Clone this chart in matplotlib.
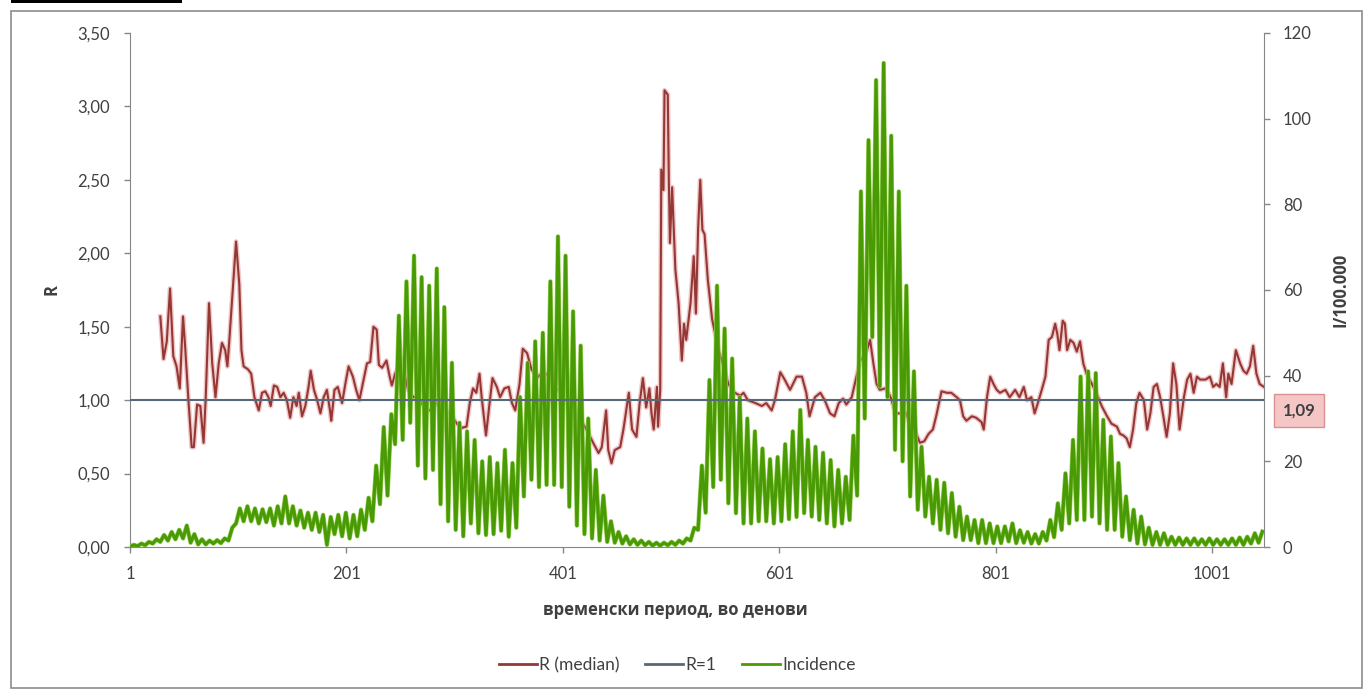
import matplotlib.pyplot as plt
import matplotlib.patheffects as pe
from matplotlib.patches import Rectangle

# R (median): day, value
r_days = [29, 32, 35, 38, 41, 44, 47, 50, 52, 55, 58, 60, 63, 66, 69, 71, 74, 77, 80, 83,
          86, 89, 91, 93, 96, 99, 102, 104, 106, 110, 113, 116, 120, 123, 126, 129, 131, 134, 137, 140,
          143, 146, 149, 152, 155, 157, 160, 163, 166, 168, 171, 174, 177, 180, 183, 186, 187, 190, 193, 197,
          200, 203, 207, 210, 213, 220, 223, 226, 229, 231, 234, 238, 241, 243, 246, 252, 258, 263, 267, 272,
          278, 284, 290, 297, 303, 307, 312, 315, 318, 321, 324, 326, 330, 333, 336, 340, 343, 347, 351, 354,
          357, 361, 364, 368, 372, 377, 381, 386, 391, 395, 400, 404, 409, 414, 418, 422, 425, 429, 434, 437,
          441, 443, 446, 449, 454, 457, 462, 465, 469, 472, 475, 478, 481, 483, 485, 488, 489, 491, 492, 494,
          495, 498, 499, 500, 502, 505, 508, 511, 513, 515, 519, 522, 524, 526, 528, 530, 532, 535, 539, 545,
          554, 560, 565, 568, 572, 579, 585, 589, 594, 597, 602, 606, 611, 617, 622, 626, 629, 634, 639, 643,
          648, 652, 656, 660, 663, 668, 673, 676, 679, 682, 685, 688, 691, 694, 699, 702, 705, 708, 713, 717,
          722, 726, 731, 735, 739, 743, 746, 751, 756, 760, 765, 768, 771, 774, 779, 783, 788, 790, 793, 796,
          799, 802, 805, 810, 814, 819, 823, 827, 830, 834, 837, 840, 844, 847, 850, 853, 856, 858, 860, 863,
          865, 867, 870, 873, 876, 879, 882, 885, 890, 894, 899, 904, 908, 913, 916, 919, 922, 925, 928, 931,
          934, 938, 941, 944, 947, 950, 953, 956, 959, 962, 965, 968, 971, 975, 978, 981, 984, 987, 990, 995,
          999, 1002, 1005, 1008, 1011, 1014, 1016, 1019, 1023, 1027, 1030, 1033, 1036, 1039, 1042, 1045, 1049]
r_vals = [1.57, 1.28, 1.40, 1.76, 1.30, 1.23, 1.08, 1.57, 1.36, 1.00, 0.68, 0.68, 0.97, 0.96, 0.71, 1.02, 1.66, 1.25, 1.02, 1.25,
          1.39, 1.34, 1.23, 1.43, 1.75, 2.08, 1.79, 1.34, 1.23, 1.21, 1.18, 1.02, 0.93, 1.05, 1.06, 1.02, 0.96, 1.10, 1.09, 1.02,
          1.05, 1.00, 0.88, 1.02, 0.96, 1.05, 0.89, 0.96, 1.09, 1.20, 1.07, 1.00, 0.91, 1.02, 1.07, 0.92, 0.86, 1.07, 1.09, 0.98,
          1.11, 1.23, 1.16, 1.07, 1.00, 1.25, 1.26, 1.50, 1.48, 1.24, 1.22, 1.27, 1.16, 1.10, 1.18, 1.27, 1.07, 1.02, 1.02, 0.96,
          0.93, 0.98, 0.93, 0.91, 0.84, 0.81, 0.82, 0.98, 1.08, 1.05, 1.18, 1.02, 0.76, 0.96, 1.15, 1.09, 1.02, 1.08, 1.09, 0.98,
          0.93, 1.11, 1.35, 1.32, 1.21, 1.15, 1.18, 1.18, 1.10, 1.07, 1.08, 1.02, 0.94, 0.89, 0.86, 0.81, 0.77, 0.71, 0.64, 0.68,
          0.93, 0.66, 0.57, 0.66, 0.68, 0.80, 1.05, 0.80, 0.75, 0.98, 1.15, 0.95, 1.08, 0.91, 0.80, 1.09, 0.82, 1.07, 2.57, 2.43,
          3.11, 3.08, 2.48, 2.07, 2.45, 1.89, 1.66, 1.27, 1.52, 1.41, 1.66, 1.98, 1.59, 2.16, 2.50, 2.16, 2.13, 1.82, 1.55, 1.34,
          1.11, 1.05, 1.03, 1.05, 1.00, 0.98, 0.96, 0.98, 0.93, 1.00, 1.19, 1.14, 1.07, 1.16, 1.16, 1.05, 0.89, 1.02, 1.05, 1.00,
          0.91, 0.89, 0.98, 1.01, 0.97, 1.02, 1.18, 1.27, 1.30, 1.34, 1.41, 1.25, 1.11, 1.07, 1.08, 1.05, 1.00, 0.91, 0.91, 0.93,
          0.84, 0.80, 0.71, 0.72, 0.77, 0.80, 0.89, 1.06, 1.05, 1.05, 1.02, 1.00, 0.89, 0.86, 0.89, 0.88, 0.85, 0.80, 1.02, 1.16,
          1.11, 1.07, 1.05, 1.07, 1.02, 1.07, 1.02, 1.09, 1.00, 1.02, 0.91, 0.98, 1.08, 1.16, 1.41, 1.43, 1.52, 1.45, 1.34, 1.54,
          1.52, 1.34, 1.41, 1.39, 1.33, 1.40, 1.25, 1.18, 1.11, 1.05, 0.96, 0.89, 0.84, 0.82, 0.77, 0.76, 0.74, 0.68, 0.80, 0.98,
          1.05, 1.00, 0.80, 0.91, 1.09, 1.11, 1.02, 0.89, 0.75, 0.91, 1.25, 1.11, 0.80, 1.02, 1.14, 1.18, 1.05, 1.16, 1.14, 1.14,
          1.16, 1.09, 1.11, 1.09, 1.25, 1.02, 1.18, 1.11, 1.34, 1.25, 1.20, 1.18, 1.23, 1.37, 1.18, 1.11, 1.09]

# Incidence per 100.000: weekly high and weekly (weekend) low, week 0 = days 1-7
inc_hi = [0.5, 0.8, 1.2, 1.8, 2.8, 3.5, 4.0, 5.0, 3.0, 1.8,
          1.5, 1.6, 2.0, 4.5, 9.0, 9.5, 9.0, 8.8, 9.0, 9.5,
          11.8, 9.5, 8.5, 8.0, 8.0, 7.5, 7.0, 7.5, 8.0, 7.5,
          8.7, 11.5, 19, 28, 31, 54, 62, 68, 63, 61,
          65, 56, 43, 29, 27, 25, 20, 21, 19.6, 22.7,
          19.6, 35, 43, 48, 50, 62, 72.5, 68, 55, 47,
          30, 18, 12, 6, 3.5, 2.5, 1.8, 1.5, 1.2, 1.0,
          1.0, 1.2, 1.5, 2.0, 4.5, 19, 39, 61, 51, 44,
          35, 30, 27, 23, 20.5, 21, 24, 27, 32, 25,
          23.4, 22, 20.3, 18, 16.4, 26, 83, 95, 109, 113,
          96, 83, 61, 41, 23.4, 16.4, 15.7, 15, 12.6, 9.4,
          7.1, 6.3, 6.3, 5.5, 4.8, 4.8, 5.5, 3.9, 3.5, 3.0,
          3.5, 6.3, 10.2, 17.2, 25, 39.8, 41, 40.6, 29.7, 25.8,
          19.6, 11.8, 8.7, 7.1, 4.5, 3.5, 3.2, 2.4, 2.2, 2.0,
          2.0, 1.8, 2.0, 1.8, 1.8, 2.0, 2.2, 2.4, 3.2, 3.6]
inc_lo = [0.1, 0.2, 0.4, 0.8, 1.2, 1.5, 1.8, 2.0, 1.0, 0.6,
          0.6, 0.8, 0.9, 1.5, 5.5, 6.0, 6.0, 5.5, 5.8, 5.0,
          5.5, 5.5, 5.0, 4.5, 4.0, 3.5, 0.5, 3.0, 2.5, 2.0,
          2.5, 4, 6, 10, 12, 24, 25, 29, 19, 16,
          18, 10, 6, 4, 2.5, 5.5, 3.2, 2.8, 3, 3.8,
          2.4, 4.5, 11.8, 15.7, 14, 14.5, 14.5, 14, 9.4, 5,
          3, 2, 1.5, 1.2, 1.0, 0.8, 0.6, 0.5, 0.4, 0.3,
          0.3, 0.4, 0.5, 0.8, 1.5, 4, 8, 14, 15.7, 10.2,
          7.9, 5.5, 5.5, 6, 6, 5.5, 6, 6.5, 7, 7.9,
          7.1, 6.3, 5.5, 4.8, 5.5, 6.3, 12, 30, 49, 37.5,
          35, 22.7, 20, 11.8, 8.7, 7.1, 5.5, 4, 3.2, 2.4,
          1.6, 1.6, 0.9, 0.9, 0.9, 0.9, 1.3, 0.9, 1.0, 0.8,
          0.8, 1.5, 2.3, 4, 5.5, 6.3, 6.3, 7.1, 5.5, 4,
          4, 2.4, 1.6, 0.8, 0.6, 0.5, 0.5, 0.5, 0.5, 0.5,
          0.5, 0.5, 0.5, 0.5, 0.5, 0.5, 0.5, 0.5, 0.8, 1.0]

last_r = 1.09
x_ticks = [1, 201, 401, 601, 801, 1001]
r_ticks = [0, 0.5, 1.0, 1.5, 2.0, 2.5, 3.0, 3.5]
i_ticks = [0, 20, 40, 60, 80, 100, 120]

plt.rcParams['font.family'] = ['Lato', 'Noto Sans', 'DejaVu Sans']

# daily series: low day then high day of each week
inc_days = []
inc_vals = []
for i in range(len(inc_hi)):
    inc_days += [7 * i + 1, 7 * i + 4.5]
    inc_vals += [inc_lo[i], inc_hi[i]]

txt = '#404040'
axis_col = '#868686'

fig = plt.figure(figsize=(13.64, 6.91), dpi=100)
ax = fig.add_axes([130 / 1364, 144 / 691, 1134 / 1364, 514 / 691])
ax2 = ax.twinx()

red, = ax.plot(r_days, r_vals, color='#953735', lw=1.5, label='R (median)',
               path_effects=[pe.Stroke(linewidth=3.5, foreground='#efc8c8'), pe.Normal()])
green, = ax2.plot(inc_days, inc_vals, color='#4a9a06', lw=2.3, label='Incidence',
                  path_effects=[pe.Stroke(linewidth=3.2, foreground='#9ad35a'), pe.Normal()])
# R=1 line drawn on top, in the R scale
one, = ax2.plot([0, 1], [1, 1], color='#56687a', lw=1.5, label='R=1',
                transform=ax.get_yaxis_transform())

ax.set_xlim(1, 1049)
ax.set_ylim(0, 3.5)
ax2.set_ylim(0, 120)
ax.set_xticks(x_ticks)
ax.set_yticks(r_ticks)
ax.set_yticklabels([f'{v:.2f}'.replace('.', ',') for v in r_ticks])
ax2.set_yticks(i_ticks)

for a in (ax, ax2):
    for s in a.spines.values():
        s.set_color(axis_col)
    a.spines['top'].set_visible(False)
    a.tick_params(colors=axis_col, labelcolor=txt, labelsize=12, length=4.5, width=1)
ax.spines['right'].set_visible(False)
ax2.spines['left'].set_visible(False)
ax2.spines['bottom'].set_visible(False)
ax.tick_params(axis='x', pad=9)
ax.tick_params(axis='y', pad=10)
ax2.tick_params(axis='y', pad=9)

ax.set_ylabel('R', fontsize=12, fontweight='bold', color=txt, labelpad=12,
              family=['Open Sans', 'DejaVu Sans'])
ax2.set_ylabel('I/100.000', fontsize=12, fontweight='bold', color=txt, labelpad=14,
               family=['Open Sans', 'DejaVu Sans'])
ax.set_xlabel('временски период, во денови', fontsize=12, fontweight='bold', color=txt,
              family=['Open Sans', 'DejaVu Sans'])
ax.xaxis.set_label_coords((675 - 130) / 1134, -54 / 514)

ax.text(1.031, 0.265, f'{last_r:.2f}'.replace('.', ','), transform=ax.transAxes,
        ha='center', va='center', fontsize=12, fontweight='bold', color='#404040',
        bbox=dict(boxstyle='square,pad=0.5', fc='#f4c7c6', ec='#d9908e', lw=1))

leg = fig.legend(handles=[red, one, green], loc='center', bbox_to_anchor=(677 / 1364, 1 - 665 / 691),
                 ncol=3, frameon=False, fontsize=12.5, handlelength=2.2, handletextpad=0.1,
                 columnspacing=1.5, labelcolor=txt)
for ln in leg.get_lines():
    ln.set_linewidth(2)
    ln.set_path_effects([])

# outer frame of the chart area and the cut caption line above it
fig.patches.append(Rectangle((11 / 1364, 3 / 691), 1351 / 1364, 677 / 691, transform=fig.transFigure,
                             fill=False, ec='#8c8c8c', lw=1.2))
fig.patches.append(Rectangle((11 / 1364, 1 - 3 / 691), 171 / 1364, 3 / 691, transform=fig.transFigure,
                             fc='black', ec='none'))

plt.savefig('out.png', dpi=100)
